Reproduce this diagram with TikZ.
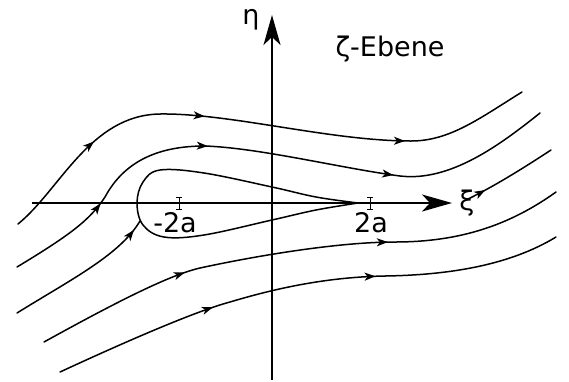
\documentclass[tikz,border=0pt]{standalone}
\usepackage{fontspec}
\setmainfont{DejaVu Sans}
\usetikzlibrary{arrows.meta,decorations.markings}
\tikzset{
  stream/.style={line width=1.5pt, line cap=round, line join=round},
  flow/.style={postaction={decorate,decoration={markings,mark=at position #1 with {\arrow{Stealth[length=11pt,width=8pt,inset=3pt]}}}}},
  axis/.style={line width=1.5pt, -{Stealth[length=30pt,width=17pt,inset=8pt]}},
  lbl/.style={font=\fontsize{27}{32}\selectfont, inner sep=0pt},
  tick/.style={line width=1pt}
}
\begin{document}
\begin{tikzpicture}[x=1pt,y=-1pt]
\useasboundingbox (0,0) rectangle (569,381);
% axes
\coordinate (xs) at (32,203);
\coordinate (xe) at (452,203);
\coordinate (ys) at (272,380);
\coordinate (ye) at (272,15);
\draw[axis] (xs) -- (xe);
\draw[axis] (ys) -- (ye);
\node[lbl] (xi) at (467,203) {ξ};
\node[lbl] (eta) at (251,20) {η};
\node[lbl] (plane) at (390,49) {ζ-Ebene};
% ticks
\foreach \name/\x in {tl/179, tr/370}{
  \coordinate (\name) at (\x,203);
  \draw[tick] ([yshift=-6pt]\name) -- ([yshift=6pt]\name);
  \draw[tick] ([xshift=-3pt,yshift=-6pt]\name) -- ([xshift=3pt,yshift=-6pt]\name);
  \draw[tick] ([xshift=-3pt,yshift=6pt]\name) -- ([xshift=3pt,yshift=6pt]\name);
}
\node[lbl] (m2a) at (175,223) {-2a};
\node[lbl] (p2a) at (371,223) {2a};
% streamline 1
\draw[stream, flow=0.20, flow=0.41, flow=0.77]
 (18,224) .. controls (60,190) and (90,115) .. (160,114)
 .. controls (230,113) and (330,141) .. (411,141)
 .. controls (450,141) and (480,118) .. (522,92);
% streamline 2
\draw[stream, flow=0.18, flow=0.40, flow=0.72]
 (17,267) .. controls (70,235) and (90,220) .. (105,197)
 .. controls (125,160) and (160,146) .. (205,146)
 .. controls (260,148) and (340,168) .. (400,176)
 .. controls (450,182) and (500,145) .. (540,113);
% body / dividing streamline
\draw[stream] plot[smooth, tension=0.6] coordinates
 {(358,203) (316,197) (272,187) (204,173) (160,170) (143,182) (137,203) (143,225) (164,237) (204,235) (272,220) (316,210) (358,203)};
\draw[stream, flow=0.93]
 (17,313) .. controls (70,280) and (120,255) .. (140,221);
\draw[stream, flow=0.22]
 (466,200) .. controls (495,186) and (525,167) .. (551,150);
% streamline 4
\draw[stream, flow=0.29, flow=0.67]
 (44,342) .. controls (120,300) and (170,275) .. (200,268)
 .. controls (260,255) and (340,242) .. (395,242)
 .. controls (460,242) and (510,225) .. (556,192);
% streamline 5
\draw[stream, flow=0.32, flow=0.64]
 (60,372) .. controls (140,335) and (200,310) .. (230,302)
 .. controls (280,287) and (330,277) .. (385,276)
 .. controls (450,275) and (510,265) .. (556,237);
\end{tikzpicture}
\end{document}
